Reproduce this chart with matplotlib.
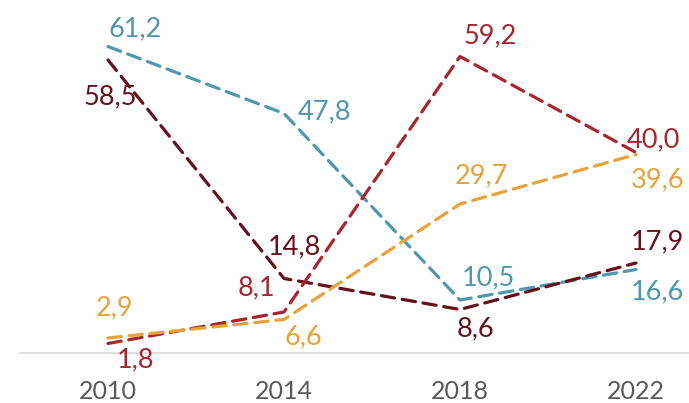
import matplotlib.pyplot as plt

years = ['2010', '2014', '2018', '2022']
blue_vals = [61.2, 47.8, 10.5, 16.6]
maroon_vals = [58.5, 14.8, 8.6, 17.9]
red_vals = [1.8, 8.1, 59.2, 40.0]
orange_vals = [2.9, 6.6, 29.7, 39.6]

c_blue = '#4e97ae'
c_maroon = '#65101a'
c_red = '#a6262f'
c_orange = '#e8a23a'

# label offsets in pixels (dx, dy, ha)
blue_off = [(0, 18, 'left'), (14, 2, 'left'), (2, 22, 'left'), (-5, -22, 'left')]
maroon_off = [(2, -37, 'center'), (10, 32, 'center'), (15, -19, 'center'), (-5, 21, 'left')]
red_off = [(28, -16, 'center'), (-28, 24, 'center'), (30, 21, 'center'), (-9, 13, 'left')]
orange_off = [(7, 30, 'center'), (19, -17, 'center'), (22, 28, 'center'), (-5, -25, 'left')]

plt.rcParams['font.family'] = ['Lato', 'DejaVu Sans']

fig = plt.figure(figsize=(6.89, 4.03), dpi=100)
ax = fig.add_axes([20 / 689, 1 - 352.5 / 403, 1 - 20 / 689, 352.5 / 403])

x = list(range(len(years)))
series = [
    (blue_vals, c_blue, blue_off),
    (maroon_vals, c_maroon, maroon_off),
    (red_vals, c_red, red_off),
    (orange_vals, c_orange, orange_off),
]
for vals, col, offs in series:
    ax.plot(x, vals, color=col, lw=2.3, dashes=(4.2, 2.4), solid_capstyle='round',
            dash_capstyle='round')
    for xi, v, (dx, dy, ha) in zip(x, vals, offs):
        ax.annotate(f'{v:.1f}'.replace('.', ','), (xi, v), xytext=(dx, dy),
                    textcoords='offset pixels', ha=ha, va='center',
                    color=col, fontsize=19.5)

ax.set_xlim(-0.5, (689 - 108) / 176)
ax.set_ylim(0, 70.5)
ax.set_xticks(x)
ax.set_xticklabels(years, fontsize=18, color='#595959')
ax.tick_params(axis='x', length=0, pad=20)
ax.set_yticks([])
for s in ['left', 'right', 'top']:
    ax.spines[s].set_visible(False)
ax.spines['bottom'].set_color('#d9d9d9')
ax.spines['bottom'].set_linewidth(1.2)

fig.savefig('out.png', dpi=100)
